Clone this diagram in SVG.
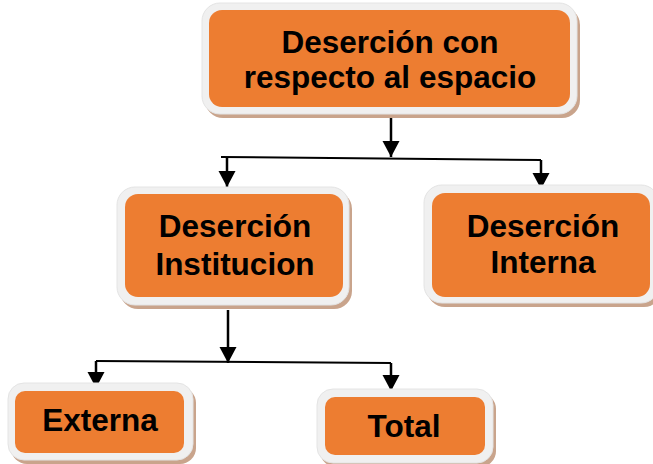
<svg xmlns="http://www.w3.org/2000/svg" width="653" height="464" viewBox="0 0 653 464">
<defs>
<marker id="ah" markerUnits="userSpaceOnUse" viewBox="0 0 17 17" markerWidth="17" markerHeight="17" refX="16" refY="8.5" orient="auto" overflow="visible">
<path d="M0,0 L16,8.5 L0,17 z" fill="#000"/>
</marker>
<style>
.sh{fill:#C9A48C}
.rg{fill:#F0F0F0;stroke:#E4E4E4;stroke-width:1}
.or{fill:#ED7D31}
.t{font-family:"Liberation Sans",Arial,sans-serif;font-weight:bold;font-size:31.5px;fill:#000;text-anchor:middle}
.c{stroke:#000;stroke-width:2;fill:none}
.ca{stroke:#000;stroke-width:2.5;fill:none;marker-end:url(#ah)}
</style>
</defs>
<rect width="653" height="464" fill="#fff"/>
<g id="connectors">
<line class="ca" x1="391" y1="114" x2="391" y2="157"/>
<line class="c" x1="221" y1="157" x2="541" y2="160"/>
<line class="ca" x1="227" y1="157" x2="227" y2="187"/>
<line class="ca" x1="541" y1="160" x2="541" y2="189"/>
<line class="ca" x1="228" y1="310" x2="228" y2="363"/>
<line class="c" x1="96" y1="361" x2="391" y2="363"/>
<line class="ca" x1="96" y1="361" x2="96" y2="388"/>
<line class="ca" x1="391" y1="363" x2="391" y2="391"/>
</g>
<g id="node-top">
<rect class="sh" x="205" y="7" width="375" height="111" rx="18"/>
<rect class="rg" x="202" y="3" width="375" height="111" rx="18"/>
<rect class="or" x="209" y="10" width="361" height="97" rx="13"/>
<text class="t" x="390" y="53">Deserción con</text>
<text class="t" x="390" y="88">respecto al espacio</text>
</g>
<g id="node-institucion">
<rect class="sh" x="120" y="191" width="232" height="118" rx="18"/>
<rect class="rg" x="117" y="187" width="232" height="118" rx="18"/>
<rect class="or" x="125" y="194" width="218" height="103" rx="13"/>
<text class="t" x="235" y="237">Deserción</text>
<text class="t" x="235" y="275">Institucion</text>
</g>
<g id="node-interna">
<rect class="sh" x="427" y="189" width="235" height="118" rx="18"/>
<rect class="rg" x="424" y="185" width="235" height="118" rx="18"/>
<rect class="or" x="432" y="193" width="218" height="104" rx="13"/>
<text class="t" x="543" y="237">Deserción</text>
<text class="t" x="543" y="273">Interna</text>
</g>
<g id="node-externa">
<rect class="sh" x="11" y="387" width="185" height="77" rx="16"/>
<rect class="rg" x="8" y="383" width="185" height="77" rx="16"/>
<rect class="or" x="15" y="391" width="169" height="62" rx="10"/>
<text class="t" x="100" y="431">Externa</text>
</g>
<g id="node-total">
<rect class="sh" x="320" y="393" width="176" height="74" rx="16"/>
<rect class="rg" x="317" y="389" width="176" height="74" rx="16"/>
<rect class="or" x="325" y="397" width="160" height="58" rx="10"/>
<text class="t" x="404" y="437">Total</text>
</g>
</svg>
